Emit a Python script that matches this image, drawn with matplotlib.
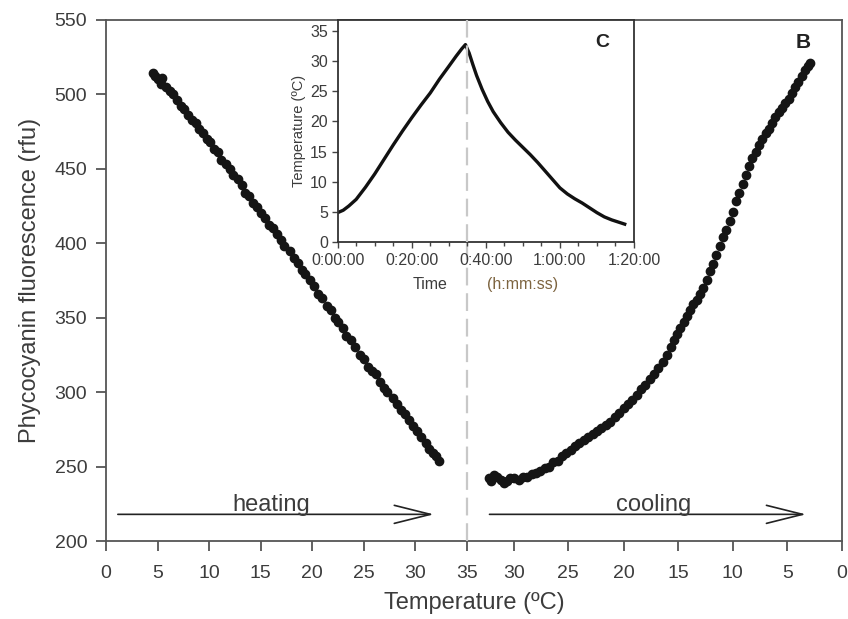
import numpy as np
import matplotlib.pyplot as plt
from matplotlib.ticker import MultipleLocator

# heating run (temperature in C, fluorescence in rfu)
heat_T = [4.6, 4.8, 5.0, 5.3, 5.4, 5.8, 6.2, 6.5, 6.9, 7.3, 7.6, 8.0, 8.3, 8.7, 9.0,
          9.4, 9.8, 10.1, 10.5, 10.9, 11.2, 11.6, 12.0, 12.3, 12.8, 13.2, 13.5, 13.9,
          14.3, 14.6, 15.0, 15.4, 15.8, 16.2, 16.6, 17.0, 17.3, 17.8, 18.2, 18.6, 19.0,
          19.3, 19.8, 20.2, 20.6, 21.0, 21.4, 21.8, 22.2, 22.5, 23.0, 23.3, 23.8, 24.2,
          24.6, 25.0, 25.4, 25.8, 26.2, 26.6, 27.0, 27.3, 27.8, 28.2, 28.6, 29.0, 29.4,
          29.8, 30.2, 30.6, 31.0, 31.3, 31.7, 32.0, 32.3]
heat_F = [514, 512, 510, 507, 511, 505, 502, 500, 496, 492, 490, 486, 483, 481, 477,
          474, 470, 468, 463, 461, 456, 453, 450, 446, 443, 439, 434, 432,
          427, 424, 420, 417, 412, 410, 406, 402, 398, 395, 390, 387, 382,
          379, 375, 371, 366, 363, 358, 355, 350, 347, 343, 338, 335, 330,
          325, 322, 317, 314, 312, 307, 303, 300, 296, 292, 288, 285, 281,
          277, 274, 270, 266, 262, 259, 257, 254]

# cooling run
cool_T = [32.7, 32.4, 32.1, 31.8, 31.4, 31.1, 30.8, 30.4, 30.0, 29.6, 29.2, 28.8, 28.4,
          28.0, 27.6, 27.2, 26.8, 26.4, 26.0, 25.6, 25.2, 24.8, 24.4, 24.0, 23.6, 23.2,
          22.8, 22.4, 22.0, 21.6, 21.2, 20.8, 20.4, 20.0, 19.6, 19.2, 18.8, 18.4, 18.0,
          17.6, 17.2, 16.8, 16.4, 16.0, 15.7, 15.4, 15.1, 14.8, 14.5, 14.2, 13.9, 13.6,
          13.3, 13.0, 12.7, 12.4, 12.1, 11.8, 11.5, 11.2, 10.9, 10.6, 10.3, 10.0, 9.7,
          9.4, 9.1, 8.8, 8.5, 8.2, 7.9, 7.6, 7.3, 7.0, 6.7, 6.4, 6.1, 5.8, 5.5, 5.2,
          4.9, 4.6, 4.3, 4.0, 3.7, 3.4, 3.1, 2.9]
cool_F = [242, 240, 244, 243, 241, 239, 240, 242, 242, 241, 243, 243, 245,
          246, 247, 249, 250, 253, 254, 257, 259, 261, 264, 266, 268, 270,
          272, 274, 276, 278, 280, 283, 286, 289, 292, 295, 298, 302, 305,
          309, 312, 316, 320, 325, 330, 335, 339, 343, 347, 351, 355, 359,
          362, 366, 370, 375, 381, 386, 392, 398, 404, 409, 415, 421, 428,
          434, 440, 446, 452, 457, 461, 466, 470, 474, 477, 481, 485, 488, 491, 494,
          497, 501, 505, 508, 512, 516, 519, 521]

# inset: temperature vs time (minutes)
time_min = [0, 1.5, 3, 5, 7.5, 10, 12.5, 15, 17.5, 20, 22.5, 25, 27.5, 30, 32, 33.5,
            34.5, 35.5, 36.5, 37.5, 39, 40.5, 42, 44, 46, 48, 50, 52, 54, 56, 58,
            60, 62, 64, 66, 68, 70, 72, 74, 76, 77.5]
time_T = [4.9, 5.3, 6.0, 7.1, 9.1, 11.3, 13.7, 16.1, 18.4, 20.6, 22.7, 24.7, 27.0,
          29.1, 30.8, 32.0, 32.7, 31.3, 29.4, 27.6, 25.3, 23.3, 21.6, 19.8, 18.2,
          16.9, 15.7, 14.5, 13.2, 11.8, 10.4, 9.0, 8.0, 7.2, 6.5, 5.7, 4.9, 4.2,
          3.7, 3.3, 3.0]

left_ticks = [0, 5, 10, 15, 20, 25, 30, 35]
right_ticks = [30, 25, 20, 15, 10, 5, 0]
right_pos = [39.6, 44.85, 50.2, 55.5, 60.8, 66.1, 71.4]

# cooling temperatures are placed on the reversed right half of the axis
cool_pos = np.interp(cool_T, [0, 5, 10, 15, 20, 25, 30, 35],
                     [71.4, 66.1, 60.8, 55.5, 50.2, 44.85, 39.6, 35])

plt.rcParams['font.family'] = ['Liberation Sans', 'DejaVu Sans']
grey = '#3c3c3c'

fig = plt.figure(figsize=(8.48, 6.19), dpi=100)
ax = fig.add_axes([0.125, 0.126, 0.868, 0.842])

ax.scatter(heat_T, heat_F, s=36, color='#151515', zorder=3)
ax.scatter(cool_pos, cool_F, s=36, color='#151515', zorder=3)
ax.axvline(35, color='#c8c8c8', lw=1.6, dashes=(8, 3.5), zorder=5)

ax.set_xlim(0, 71.4)
ax.set_ylim(200, 550)
ax.set_xticks(left_ticks + right_pos)
ax.set_xticklabels([str(t) for t in left_ticks] + [str(t) for t in right_ticks])
ax.set_yticks(range(200, 551, 50))
ax.tick_params(direction='out', length=7, width=1.3, colors='#555555',
               labelcolor=grey, labelsize=14)
ax.tick_params(axis='x', pad=10.5)
ax.tick_params(axis='y', pad=6.5)
for s in ax.spines.values():
    s.set_color('#555555')
    s.set_linewidth(1.3)

ax.set_xlabel('Temperature (ºC)', fontsize=17, color=grey, labelpad=7)
ax.set_ylabel('Phycocyanin fluorescence (rfu)', fontsize=17, color=grey, labelpad=10)

arrow = dict(arrowstyle='->,head_length=2.6,head_width=0.65', mutation_scale=10,
             lw=1.2, color='#222222', shrinkA=0, shrinkB=0)
ax.annotate('', xy=(31.8, 217.9), xytext=(1.15, 217.9), arrowprops=arrow)
ax.annotate('', xy=(67.9, 217.9), xytext=(37.2, 217.9), arrowprops=arrow)
ax.text(16.0, 220.0, 'heating', fontsize=17, color=grey, ha='center', va='baseline')
ax.text(53.1, 220.0, 'cooling', fontsize=17, color=grey, ha='center', va='baseline')
ax.text(67.6, 534.5, 'B', fontsize=15, fontweight='bold', color='#222222',
        ha='center', va='center')

# inset panel C
axin = fig.add_axes([0.3982, 0.6086, 0.3494, 0.3591])
axin.plot(time_min, time_T, color='#111111', lw=2.4)
axin.set_xlim(0, 80)
axin.set_ylim(0, 36.77)
axin.set_xticks([0, 20, 40, 60, 80])
axin.set_xticklabels(['0:00:00', '0:20:00', '0:40:00', '1:00:00', '1:20:00'])
axin.xaxis.set_minor_locator(MultipleLocator(5))
axin.set_yticks(range(0, 36, 5))
axin.tick_params(direction='out', length=4, width=1, colors='#444444',
                 labelcolor=grey, labelsize=11.5, pad=3)
axin.tick_params(axis='x', pad=4)
axin.tick_params(which='minor', direction='out', length=3, width=1, colors='#444444')
for s in axin.spines.values():
    s.set_color('#333333')
    s.set_linewidth(1.3)
axin.set_ylabel('Temperature (ºC)', fontsize=10.5, color=grey, labelpad=3)
axin.text(0.3115, -0.188, 'Time', transform=axin.transAxes, fontsize=11.5,
          color=grey, ha='center', va='center')
axin.text(0.624, -0.188, '(h:mm:ss)', transform=axin.transAxes, fontsize=11.5,
          color='#7d6440', ha='center', va='center')
axin.text(0.892, 0.897, 'C', transform=axin.transAxes, fontsize=14,
          fontweight='bold', color='#222222', ha='center', va='center')

# continue the dashed divider through the inset
xd = ax.transData.transform((35, 0))[0]
x_in = axin.transData.inverted().transform((xd, 0))[0]
axin.axvline(x_in, color='#c8c8c8', lw=1.6, dashes=(8, 3.5), zorder=5)

fig.savefig('out.png', dpi=100)
